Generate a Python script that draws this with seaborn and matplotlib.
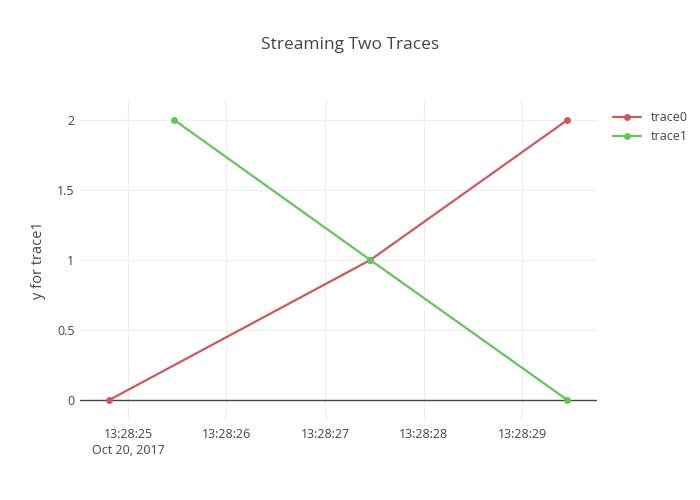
import matplotlib
matplotlib.use("Agg")
import matplotlib.pyplot as plt
import matplotlib.dates as mdates
import seaborn as sns
import pandas as pd
import numpy as np

trace0_x = ["2017-10-20 13:28:24.81", "2017-10-20 13:28:27.46", "2017-10-20 13:28:29.46"]
trace0_y = [0, 1, 2]
trace1_x = ["2017-10-20 13:28:25.47", "2017-10-20 13:28:27.46", "2017-10-20 13:28:29.46"]
trace1_y = [2, 1, 0]
tick_times = ["2017-10-20 13:28:25", "2017-10-20 13:28:26", "2017-10-20 13:28:27",
              "2017-10-20 13:28:28", "2017-10-20 13:28:29"]
tick_labels = ["13:28:25\nOct 20, 2017", "13:28:26", "13:28:27", "13:28:28", "13:28:29"]
y_ticks = [0, 0.5, 1, 1.5, 2]
y_labels = ["0", "0.5", "1", "1.5", "2"]

df = pd.DataFrame({
    "time": pd.to_datetime(trace0_x + trace1_x),
    "y": trace0_y + trace1_y,
    "trace": ["trace0"] * 3 + ["trace1"] * 3,
})

sns.set_style("white")
plt.rcParams['font.family'] = ['Open Sans', 'DejaVu Sans']

fig = plt.figure(figsize=(7, 5), dpi=100)
ax = fig.add_axes([80/700, 80/500, 517/700, 320/500])

palette = {"trace0": "#cc5a5a", "trace1": "#62c65a"}
sns.lineplot(data=df, x="time", y="y", hue="trace", palette=palette, marker="o",
             markersize=5, markeredgewidth=0, linewidth=1.6, ax=ax, zorder=3)

ax.set_xlim(pd.Timestamp("2017-10-20 13:28:24.513"), pd.Timestamp("2017-10-20 13:28:29.761"))
ax.set_ylim(-0.143, 2.143)

ax.set_xticks(pd.to_datetime(tick_times))
ax.set_xticklabels(tick_labels, linespacing=1.25)
ax.set_yticks(y_ticks)
ax.set_yticklabels(y_labels)

ax.grid(True, color="#eeeeee", linewidth=0.8)
ax.axhline(0, color="#444444", linewidth=1, zorder=2)
for s in ax.spines.values():
    s.set_visible(False)
ax.tick_params(axis="both", length=0, labelsize=9, colors="#444444")
ax.tick_params(axis="y", pad=4)
ax.tick_params(axis="x", pad=6)
ax.set_xlabel("")
ax.set_ylabel("y for trace1", fontsize=10.5, color="#444444", labelpad=8)

fig.suptitle("Streaming Two Traces", x=0.5, y=1 - 45/500, va="center",
             fontsize=12.5, color="#444444")

leg = ax.legend(loc="upper left", bbox_to_anchor=(1.01, 1.0), frameon=False,
                fontsize=9, handlelength=2.2)
for t in leg.get_texts():
    t.set_color("#444444")

fig.savefig("out.png", dpi=100)
